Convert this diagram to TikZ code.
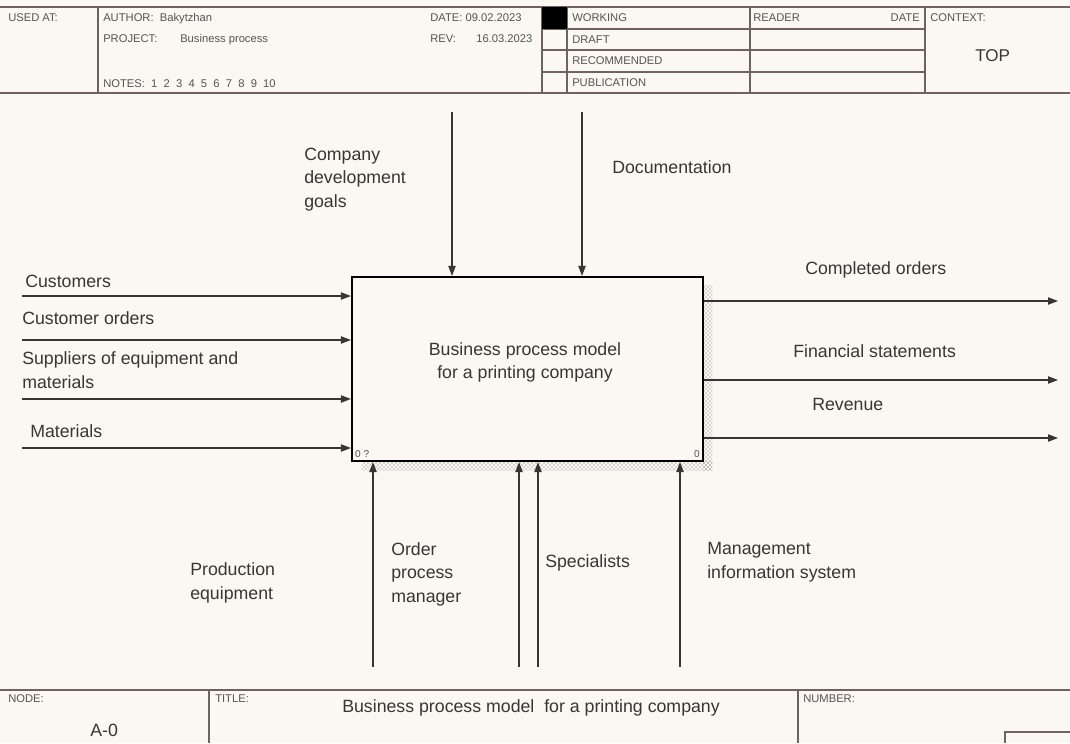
\documentclass[tikz,border=0pt]{standalone}
\usepackage{fontspec}
\setmainfont{Liberation Sans}
\usetikzlibrary{positioning, calc, arrows.meta, patterns}
\definecolor{paper}{HTML}{FBF8F3}
\definecolor{frame}{HTML}{6E6360}
\definecolor{ink}{HTML}{3A3533}
\tikzstyle{Flow} = [
%arrow for the ICOM connectors
line width=0.8pt, draw=ink,
-{Triangle[length=7.5pt, width=5.5pt]}
]

\begin{document}
\begin{tikzpicture}[x=0.75pt, y=-0.75pt,
		lbl/.style = {anchor=base west, align=left, inner sep=0pt, text=ink, font=\fontsize{13.3}{17.3}\selectfont},
		tiny/.style = {anchor=base west, inner sep=0pt, text=ink!85, font=\fontsize{8.4}{10}\selectfont},
		rule/.style = {draw=frame, line width=1pt},
		activity/.style = {rectangle, draw=black, line width=1.6pt, fill=paper, minimum width=263.25pt, minimum height=138pt},
	]

	\useasboundingbox (0,0) rectangle (1070,743);
	\fill[paper] (0,0) rectangle (1070,743);

	% header frame
	\draw[rule] (0,7) -- (1070,7);
	\draw[rule] (0,93) -- (1070,93);
	\draw[rule] (98,7) -- (98,93);
	\draw[rule] (542,7) -- (542,93);
	\draw[rule] (567,7) -- (567,93);
	\draw[rule] (750,7) -- (750,93);
	\draw[rule] (925,7) -- (925,93);
	\foreach \yy in {29,50,72}
		\draw[rule] (542,\yy) -- (925,\yy);
	\fill[black] (542,7) rectangle (567,29);

	\node[tiny] (usedat) at (8,21) {USED AT:};
	\node[tiny] (author) at (103,21) {AUTHOR:\ \ Bakytzhan};
	\node[tiny] (project) at (103,42) {PROJECT:};
	\node[tiny] (projname) at (180,42) {Business process};
	\node[tiny] (notes) at (103,87) {NOTES:\ \ 1\ \ 2\ \ 3\ \ 4\ \ 5\ \ 6\ \ 7\ \ 8\ \ 9\ \ 10};
	\node[tiny] (date) at (430,21) {DATE:\ 09.02.2023};
	\node[tiny] (rev) at (430,42) {REV:};
	\node[tiny] (revdate) at (476,42) {16.03.2023};
	\node[tiny] (working) at (572,21) {WORKING};
	\node[tiny] (draft) at (572,43) {DRAFT};
	\node[tiny] (recommended) at (572,64) {RECOMMENDED};
	\node[tiny] (publication) at (572,86) {PUBLICATION};
	\node[tiny] (reader) at (753,21) {READER};
	\node[tiny, anchor=base east] (rdate) at (920,21) {DATE};
	\node[tiny] (context) at (930,21) {CONTEXT:};
	\node[lbl, font=\fontsize{12.8}{15}\selectfont] (top) at (975,61) {TOP};

	% activity box with shadow
	\fill[pattern=crosshatch dots, pattern color=gray!80!black] (703,285) rectangle (712,470);
	\fill[pattern=crosshatch dots, pattern color=gray!80!black] (362,461) rectangle (712,470);
	\node[activity] (bpm) at (527.5,369) {};
	\node[lbl, anchor=center, align=center] (bpmtitle) at (525,362) {Business process model\\for a printing company};
	\node[tiny, anchor=south west, inner sep=3pt, font=\fontsize{7.6}{9}\selectfont] (bpmref) at (bpm.south west) {0 ?};
	\node[tiny, anchor=south east, inner sep=3pt, font=\fontsize{7.6}{9}\selectfont] (bpmnum) at (bpm.south east) {0};

	% controls
	\coordinate (cCtl1) at (452,112);
	\coordinate (cCtl2) at (582,112);
	\draw[Flow] (cCtl1) -- (cCtl1 |- bpm.north);
	\draw[Flow] (cCtl2) -- (cCtl2 |- bpm.north);
	\node[lbl] (goals) at (304,207) {Company\\development\\goals};
	\node[lbl] (docs) at (612,173) {Documentation};

	% inputs
	\coordinate (cIn1) at (22,296);
	\coordinate (cIn2) at (22,340);
	\coordinate (cIn3) at (22,399);
	\coordinate (cIn4) at (22,448);
	\foreach \i in {1,...,4}
		\draw[Flow] (cIn\i) -- (cIn\i -| bpm.west);
	\node[lbl] (customers) at (25,287) {Customers};
	\node[lbl] (orders) at (22,324) {Customer orders};
	\node[lbl] (suppliers) at (22,388) {Suppliers of equipment and\\materials};
	\node[lbl] (materials) at (30,437) {Materials};

	% outputs
	\coordinate (cOut1) at (1058,301);
	\coordinate (cOut2) at (1058,380);
	\coordinate (cOut3) at (1058,438);
	\foreach \i in {1,...,3}
		\draw[Flow] (cOut\i -| bpm.east) -- (cOut\i);
	\node[lbl] (completed) at (805,274) {Completed orders};
	\node[lbl] (financial) at (793,357) {Financial statements};
	\node[lbl] (revenue) at (812,410) {Revenue};

	% mechanisms
	\coordinate (cMech1) at (373,667);
	\coordinate (cMech2) at (519,667);
	\coordinate (cMech3) at (538,667);
	\coordinate (cMech4) at (680,667);
	\foreach \i in {1,...,4}
		\draw[Flow] (cMech\i) -- (cMech\i |- bpm.south);
	\node[lbl] (equipment) at (190,599) {Production\\equipment};
	\node[lbl] (manager) at (391,602) {Order\\process\\manager};
	\node[lbl] (specialists) at (545,567) {Specialists};
	\node[lbl] (mis) at (707,578) {Management\\information system};

	% footer frame
	\draw[rule] (0,690) -- (1070,690);
	\draw[rule] (209,690) -- (209,743);
	\draw[rule] (798,690) -- (798,743);
	\draw[rule] (1005,743) -- (1005,732) -- (1070,732);
	\node[tiny] (nodelbl) at (8,702) {NODE:};
	\node[lbl] (nodeid) at (90,736) {A-0};
	\node[tiny] (titlelbl) at (215,702) {TITLE:};
	\node[lbl] (title) at (342,712) {Business process model\ \ for a printing company};
	\node[tiny] (numberlbl) at (803,702) {NUMBER:};
\end{tikzpicture}
\end{document}
